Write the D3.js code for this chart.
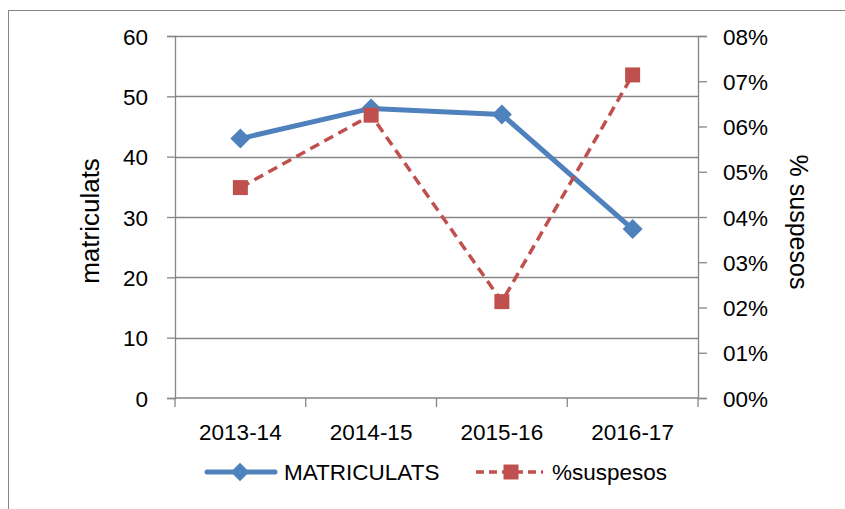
<!DOCTYPE html>
<html>
<head>
<meta charset="utf-8">
<script src="https://cdn.jsdelivr.net/npm/d3@7"></script>
<style>
  html, body { margin: 0; padding: 0; background: #fff; }
  svg { display: block; font-family: "Liberation Sans", Arial, sans-serif; }
</style>
</head>
<body>
<svg id="chart" width="845" height="509"></svg>
<script>
const categories = ["2013-14", "2014-15", "2015-16", "2016-17"];
const matriculats = [43, 48, 47, 28];
const suspesos = [0.0465, 0.0625, 0.0213, 0.0714];
const leftTicks = [0, 10, 20, 30, 40, 50, 60];
const rightTicks = [0, 0.01, 0.02, 0.03, 0.04, 0.05, 0.06, 0.07, 0.08];
const seriesNames = ["MATRICULATS", "%suspesos"];
const leftTitle = "matriculats";
const rightTitle = "% suspesos";

const blue = "#4F81BD", red = "#C0504D", grey = "#868686";
const svg = d3.select("#chart");
const plot = { left: 175, right: 698, top: 36, bottom: 398 };

// outer chart border
svg.append("rect").attr("x", 8.5).attr("y", 10.5).attr("width", 900).attr("height", 600)
  .attr("fill", "none").attr("stroke", grey).attr("stroke-width", 1);

const x = d3.scaleBand().domain(categories).range([plot.left, plot.right]).paddingInner(0).paddingOuter(0);
const y = d3.scaleLinear().domain([0, 60]).range([plot.bottom, plot.top]);
const y2 = d3.scaleLinear().domain([0, 0.08]).range([plot.bottom, plot.top]);
const cx = d => x(d) + x.bandwidth() / 2;

// gridlines
svg.append("g").selectAll("line").data(leftTicks.filter(t => t > 0)).join("line")
  .attr("x1", plot.left).attr("x2", plot.right)
  .attr("y1", d => Math.round(y(d)) + 0.5).attr("y2", d => Math.round(y(d)) + 0.5)
  .attr("stroke", grey).attr("stroke-width", 1.3);

// left axis
const gl = svg.append("g").attr("transform", `translate(${plot.left},0)`)
  .call(d3.axisLeft(y).tickValues(leftTicks).tickSize(8).tickPadding(19).tickFormat(d3.format("d")));
// right axis
const gr = svg.append("g").attr("transform", `translate(${plot.right},0)`)
  .call(d3.axisRight(y2).tickValues(rightTicks).tickSize(9).tickPadding(16)
    .tickFormat(d => String(Math.round(d * 100)).padStart(2, "0") + "%"));
[gl, gr].forEach(g => {
  g.select(".domain").attr("stroke", grey).attr("stroke-width", 1.3);
  g.selectAll(".tick line").attr("stroke", grey).attr("stroke-width", 1.3);
  g.selectAll(".tick text").attr("fill", "#000").attr("font-size", 22.5)
    .attr("font-family", "Liberation Sans, Arial, sans-serif").attr("dy", "0.36em");
});

// bottom axis
const gb = svg.append("g").attr("transform", `translate(0,${plot.bottom})`);
gb.append("line").attr("x1", plot.left).attr("x2", plot.right).attr("y1", 0).attr("y2", 0)
  .attr("stroke", grey).attr("stroke-width", 1.3);
const bounds = categories.map(c => x(c)).concat([x(categories[categories.length - 1]) + x.bandwidth()]);
gb.selectAll("line.tk").data(bounds).join("line").attr("class", "tk")
  .attr("x1", d => d).attr("x2", d => d).attr("y1", 0).attr("y2", 9)
  .attr("stroke", grey).attr("stroke-width", 1.3);
gb.selectAll("text").data(categories).join("text")
  .attr("x", d => cx(d)).attr("y", 42).attr("text-anchor", "middle")
  .attr("font-size", 22.5).attr("fill", "#000").text(d => d);

// axis titles
svg.append("text").attr("transform", "translate(99,221) rotate(-90)").attr("text-anchor", "middle")
  .attr("font-size", 26).attr("fill", "#000").text(leftTitle);
svg.append("text").attr("transform", "translate(790,222) rotate(90)").attr("text-anchor", "middle")
  .attr("font-size", 25).attr("fill", "#000").text(rightTitle);

// series lines
const lineL = d3.line().x((d, i) => cx(categories[i])).y(d => y(d));
const lineR = d3.line().x((d, i) => cx(categories[i])).y(d => y2(d));
svg.append("path").datum(matriculats).attr("d", lineL).attr("fill", "none")
  .attr("stroke", blue).attr("stroke-width", 5).attr("stroke-linejoin", "round").attr("stroke-linecap", "round");
svg.append("path").datum(suspesos).attr("d", lineR).attr("fill", "none")
  .attr("stroke", red).attr("stroke-width", 3.5).attr("stroke-dasharray", "10,6");

const diamond = d3.symbol().type(d3.symbolDiamond2).size(190);
const square = d3.symbol().type(d3.symbolSquare).size(225);
svg.append("g").selectAll("path").data(matriculats).join("path")
  .attr("transform", (d, i) => `translate(${cx(categories[i])},${y(d)}) rotate(45)`)
  .attr("d", d3.symbol().type(d3.symbolSquare).size(200)).attr("fill", blue);
svg.append("g").selectAll("path").data(suspesos).join("path")
  .attr("transform", (d, i) => `translate(${cx(categories[i])},${y2(d)})`)
  .attr("d", square).attr("fill", red);

// legend
const lg = svg.append("g");
lg.append("line").attr("x1", 207).attr("x2", 275).attr("y1", 472).attr("y2", 472)
  .attr("stroke", blue).attr("stroke-width", 5).attr("stroke-linecap", "round");
lg.append("path").attr("transform", "translate(240,472) rotate(45)")
  .attr("d", d3.symbol().type(d3.symbolSquare).size(170)).attr("fill", blue);
lg.append("text").attr("x", 284).attr("y", 480).attr("font-size", 22.5).attr("fill", "#000").text(seriesNames[0]);
lg.append("line").attr("x1", 476).attr("x2", 543).attr("y1", 472).attr("y2", 472)
  .attr("stroke", red).attr("stroke-width", 3.5).attr("stroke-dasharray", "8,5");
lg.append("path").attr("transform", "translate(511,472)").attr("d", square).attr("fill", red);
lg.append("text").attr("x", 552).attr("y", 480).attr("font-size", 22.5).attr("fill", "#000").text(seriesNames[1]);
</script>
</body>
</html>
